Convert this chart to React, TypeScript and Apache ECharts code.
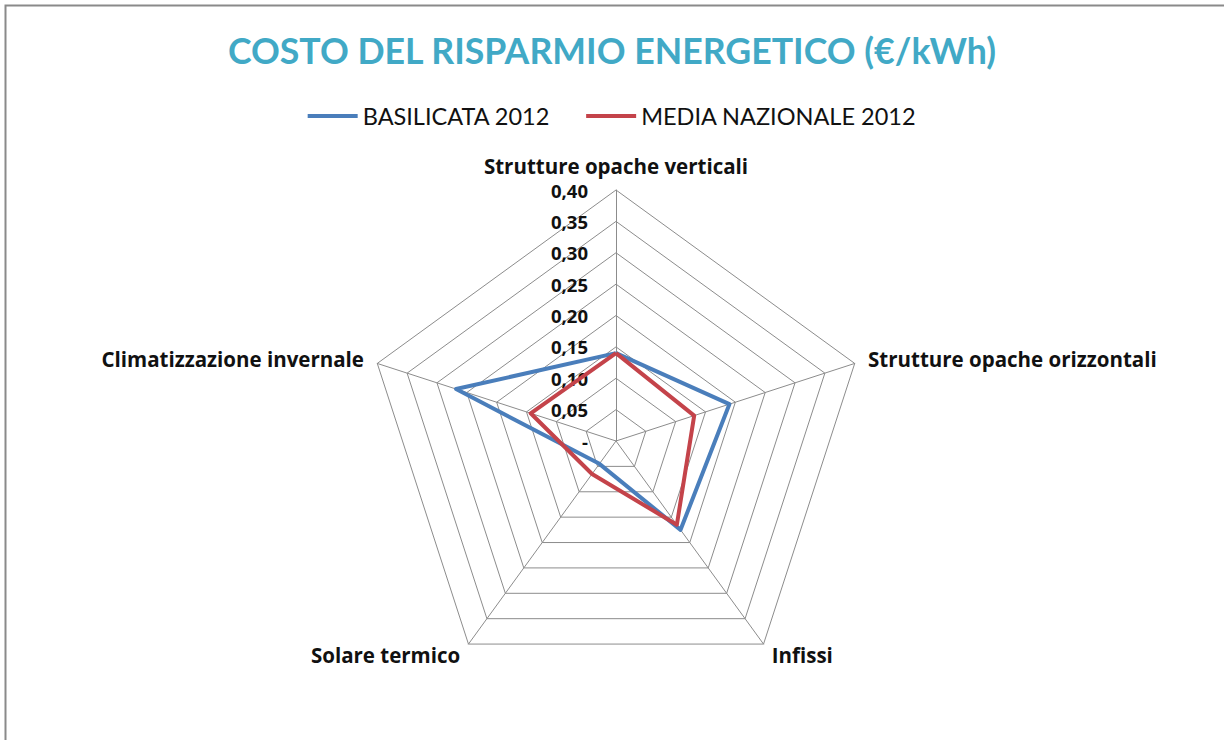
import React, { useEffect, useRef } from "react";
import * as echarts from "echarts";

const titleText = "COSTO DEL RISPARMIO ENERGETICO (€/kWh)";
const categories = [
  "Strutture opache verticali",
  "Strutture opache orizzontali",
  "Infissi",
  "Solare termico",
  "Climatizzazione invernale",
];
const basilicata2012 = [0.14, 0.19, 0.175, 0.045, 0.268];
const mediaNazionale2012 = [0.14, 0.131, 0.165, 0.065, 0.143];
const seriesNames = ["BASILICATA 2012", "MEDIA NAZIONALE 2012"];
const axisMax = 0.4;

const FONT = "'Open Sans', Lato, sans-serif";
const LFONT = "Lato, 'Open Sans', sans-serif";

// ECharts radar runs counter-clockwise; reorder so categories run clockwise
const displayOrder = [0, 4, 3, 2, 1];

export default function App() {
  const ref = useRef<HTMLDivElement>(null);
  useEffect(() => {
    if (!ref.current) return;
    const chart = echarts.init(ref.current, undefined, { renderer: "svg" });
    const fmt = (v: number) => (v === 0 ? "-" : v.toFixed(2).replace(".", ","));
    const reorder = (arr: number[]) => displayOrder.map((i) => arr[i]);
    chart.setOption({
      animation: false,
      backgroundColor: "#ffffff",
      textStyle: { fontFamily: FONT },
      title: {
        text: titleText,
        left: "center",
        top: 27,
        textStyle: { color: "#41A9C6", fontSize: 35.7, fontWeight: "bold", fontFamily: LFONT },
      },
      legend: {
        top: 99,
        left: "center",
        itemWidth: 50,
        itemHeight: 4,
        itemGap: 36,
        icon: "rect",
        textStyle: { color: "#111", fontSize: 23.5, fontFamily: LFONT, padding: [0, 0, 0, 0] },
        data: seriesNames,
      },
      graphic: [
        {
          type: "rect",
          silent: true,
          shape: { x: 5.5, y: 5.5, width: 1300, height: 800 },
          style: { fill: "none", stroke: "#8a8a8a", lineWidth: 2 },
        },
      ],
      radar: {
        center: [616, 441],
        radius: 251,
        startAngle: 90,
        splitNumber: 8,
        shape: "polygon",
        nameGap: 14,
        axisName: { color: "#111", fontSize: 20.5, fontWeight: "bold", fontFamily: FONT },
        splitArea: { show: false },
        splitLine: { lineStyle: { color: "#8c8c8c", width: 1 } },
        axisLine: { lineStyle: { color: "#8c8c8c", width: 1 } },
        axisTick: { show: false },
        axisLabel: { show: false },
        indicator: displayOrder.map((idx) =>
          idx === 0
            ? {
                name: categories[idx],
                min: 0,
                max: axisMax,
                axisLabel: {
                  show: true,
                  color: "#111",
                  fontSize: 18.5,
                  fontWeight: "bold",
                  fontFamily: FONT,
                  formatter: fmt,
                  margin: 28,
                },
              }
            : { name: categories[idx], min: 0, max: axisMax }
        ),
      },
      series: [
        {
          type: "radar",
          symbol: "none",
          data: [
            {
              name: seriesNames[0],
              value: reorder(basilicata2012),
              lineStyle: { color: "#4A7EBB", width: 4 },
              itemStyle: { color: "#4A7EBB" },
            },
            {
              name: seriesNames[1],
              value: reorder(mediaNazionale2012),
              lineStyle: { color: "#C4434A", width: 4 },
              itemStyle: { color: "#C4434A" },
            },
          ],
        },
      ],
    });
    return () => chart.dispose();
  }, []);
  return (
    <div
      ref={ref}
      style={{ position: "fixed", left: 0, top: 0, width: 1224, height: 740 }}
    />
  );
}
